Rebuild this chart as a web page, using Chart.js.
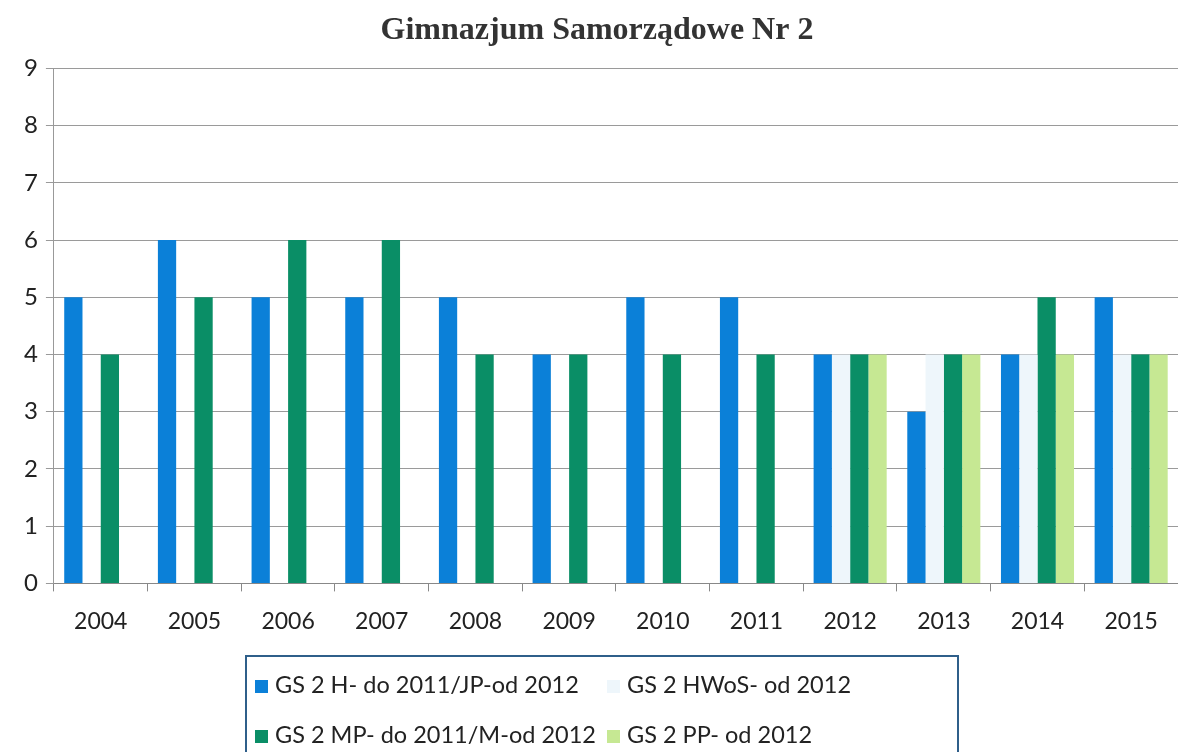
<!DOCTYPE html>
<html>
<head>
<meta charset="utf-8">
<script src="https://cdn.jsdelivr.net/npm/chart.js@4"></script>
<style>
  html, body { margin: 0; padding: 0; background: #fff; }
  #wrap { position: relative; width: 1178px; height: 752px; }
  #legend {
    position: absolute; left: 245px; top: 655px; width: 714px; height: 110px;
    border: 2px solid #2f5f8a; box-sizing: border-box;
    display: grid; grid-template-columns: 352px 350px; grid-template-rows: 50px 50px;
    align-items: center; padding: 2px 0 0 8px;
    font-family: Lato, "Open Sans", sans-serif; font-size: 23.5px; color: #222;
  }
  #legend span.box { display: inline-block; width: 13px; height: 13px; margin-right: 7px; }
</style>
</head>
<body>
<div id="wrap">
  <canvas id="chart" width="1178" height="752"></canvas>
  <div id="legend"></div>
</div>
<script>
// lata
const years = ['2004', '2005', '2006', '2007', '2008', '2009', '2010', '2011', '2012', '2013', '2014', '2015'];

// wyniki (stanin)
const hJp   = [5, 6, 5, 5, 5, 4, 5, 5, 4, 3, 4, 5];
const hwos  = [null, null, null, null, null, null, null, null, 4, 4, 4, 4];
const mpM   = [4, 5, 6, 6, 4, 4, 4, 4, 4, 4, 5, 4];
const pp    = [null, null, null, null, null, null, null, null, 4, 4, 4, 4];

const yTicks = [0, 1, 2, 3, 4, 5, 6, 7, 8, 9];

const series = [
    { label: 'GS 2 H- do 2011/JP-od 2012', data: hJp,  color: '#0b80d8' },
    { label: 'GS 2 HWoS- od 2012',         data: hwos, color: '#eef6fb' },
    { label: 'GS 2 MP- do 2011/M-od 2012', data: mpM,  color: '#0a8e66' },
    { label: 'GS 2 PP- od 2012',           data: pp,   color: '#c6e893' }
];

const chart = new Chart(document.getElementById('chart'), {
    type: 'bar',
    data: {
        labels: years,
        datasets: series.map(s => ({
            label: s.label,
            data: s.data,
            backgroundColor: s.color,
            borderWidth: 0,
            categoryPercentage: 0.78,
            barPercentage: 1.0
        }))
    },
    options: {
        responsive: false,
        animation: false,
        layout: { padding: { left: 16, right: 0, top: 6, bottom: 101 } },
        plugins: {
            legend: { display: false },
            tooltip: { enabled: false },
            title: {
                display: true,
                text: 'Gimnazjum Samorządowe Nr 2',
                color: '#333',
                font: { family: '"Liberation Serif", "Times New Roman", serif', size: 32, weight: 'bold' },
                padding: { top: 6, bottom: 18 }
            }
        },
        scales: {
            x: {
                grid: { display: true, drawOnChartArea: false, drawTicks: true, tickLength: 8, color: '#888', offset: true },
                border: { color: '#888', width: 1 },
                ticks: {
                    color: '#222', padding: 16,
                    font: { family: 'Lato, "Open Sans", sans-serif', size: 23 }
                }
            },
            y: {
                min: 0, max: 9,
                afterBuildTicks: axis => { axis.ticks = yTicks.map(v => ({ value: v })); },
                grid: { color: '#9a9a9a', lineWidth: 1, tickLength: 8 },
                border: { color: '#999', width: 1 },
                ticks: {
                    color: '#222', padding: 8,
                    font: { family: 'Lato, "Open Sans", sans-serif', size: 24 }
                }
            }
        }
    }
});

// legenda w ramce, 2 kolumny
const legend = document.getElementById('legend');
series.forEach(s => {
    const item = document.createElement('div');
    const box = document.createElement('span');
    box.className = 'box';
    box.style.background = s.color;
    item.appendChild(box);
    item.appendChild(document.createTextNode(s.label));
    legend.appendChild(item);
});
</script>
</body>
</html>
